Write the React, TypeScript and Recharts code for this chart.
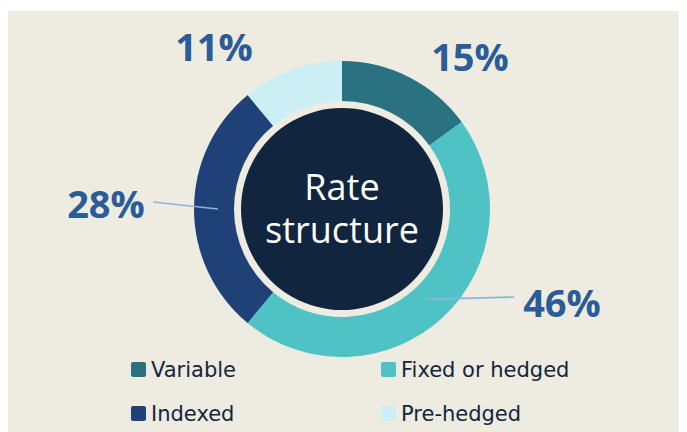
import React from 'react';
import { PieChart, Pie, Cell, Legend } from 'recharts';

const categories = ['Variable', 'Fixed or hedged', 'Indexed', 'Pre-hedged'];
const shares = [15, 46, 28, 11];
const centerTitle = ['Rate', 'structure'];

const colors = ['#2A7282', '#4EC2C4', '#1F4178', '#CBEFF5'];
const BG = '#EEEBE0';
const NAVY = '#12253F';
const LABEL_BLUE = '#2A5C9A';
const LEADER = '#8DB2E2';

// label placement relative to pie centre; leader = end point of the line (if any)
const labelLayout = [
  { dx: 128, dy: -153, leader: null },
  { dx: 220, dy: 93, leader: { x: 172, y: 88 } },
  { dx: -236, dy: -6, leader: { x: -189, y: -7 } },
  { dx: -128, dy: -163, leader: null },
];

const data = categories.map((name, i) => ({ name, value: shares[i] }));
const core = [{ name: 'core', value: 1 }];

const RADIAN = Math.PI / 180;

const renderLabel = (props: any) => {
  const { cx, cy, midAngle, innerRadius, outerRadius, index, value } = props;
  const lay = labelLayout[index];
  const r = (innerRadius + outerRadius) / 2 - 4;
  const sx = cx + r * Math.cos(-midAngle * RADIAN);
  const sy = cy + r * Math.sin(-midAngle * RADIAN);
  return (
    <g key={`lbl-${index}`}>
      {lay.leader && (
        <line
          x1={sx}
          y1={sy}
          x2={cx + lay.leader.x}
          y2={cy + lay.leader.y}
          stroke={LEADER}
          strokeWidth={1.6}
        />
      )}
      <text
        x={cx + lay.dx}
        y={cy + lay.dy}
        textAnchor="middle"
        dominantBaseline="central"
        fill={LABEL_BLUE}
        fontFamily="'Open Sans', sans-serif"
        fontWeight={700}
        fontSize={38}
      >
        {`${value}%`}
      </text>
    </g>
  );
};

const renderCenter = (props: any) => {
  const { cx, cy } = props;
  return (
    <text
      key="center"
      x={cx}
      textAnchor="middle"
      fill="#FFFFFF"
      fontFamily="'Open Sans', sans-serif"
      fontSize={36}
    >
      <tspan x={cx} y={cy - 9}>{centerTitle[0]}</tspan>
      <tspan x={cx} y={cy + 34}>{centerTitle[1]}</tspan>
    </text>
  );
};

// legend keeps the source order: Variable, Fixed / Indexed, Pre-hedged
const renderLegend = () => (
  <div
    style={{
      display: 'grid',
      gridTemplateColumns: '250px 250px',
      rowGap: 19,
      paddingLeft: 123,
    }}
  >
    {categories.map((name, i) => (
      <div
        key={name}
        style={{
          display: 'flex',
          alignItems: 'center',
          height: 25,
          fontFamily: "'DejaVu Sans', sans-serif",
          fontSize: 21,
          color: NAVY,
        }}
      >
        <span
          style={{
            display: 'inline-block',
            width: 15,
            height: 15,
            borderRadius: 2,
            background: colors[i],
            marginRight: 5,
          }}
        />
        {name}
      </div>
    ))}
  </div>
);

export default function App() {
  return (
    <div style={{ marginTop: 3, width: 679, height: 421, background: BG }}>
      <PieChart width={679} height={421} margin={{ top: 0, right: 0, bottom: 0, left: 0 }}>
        <Pie
          data={core}
          dataKey="value"
          cx={334}
          cy={198}
          innerRadius={0}
          outerRadius={101}
          fill={NAVY}
          stroke="none"
          legendType="none"
          label={renderCenter}
          labelLine={false}
          isAnimationActive={false}
        />
        <Pie
          data={data}
          dataKey="value"
          nameKey="name"
          cx={334}
          cy={198}
          innerRadius={108}
          outerRadius={148}
          startAngle={90}
          endAngle={-270}
          stroke="none"
          label={renderLabel}
          labelLine={false}
          isAnimationActive={false}
        >
          {data.map((d, i) => (
            <Cell key={d.name} fill={colors[i]} />
          ))}
        </Pie>
        <Legend
          content={renderLegend}
          wrapperStyle={{ position: 'absolute', left: 0, top: 346, width: 679 }}
        />
      </PieChart>
    </div>
  );
}
